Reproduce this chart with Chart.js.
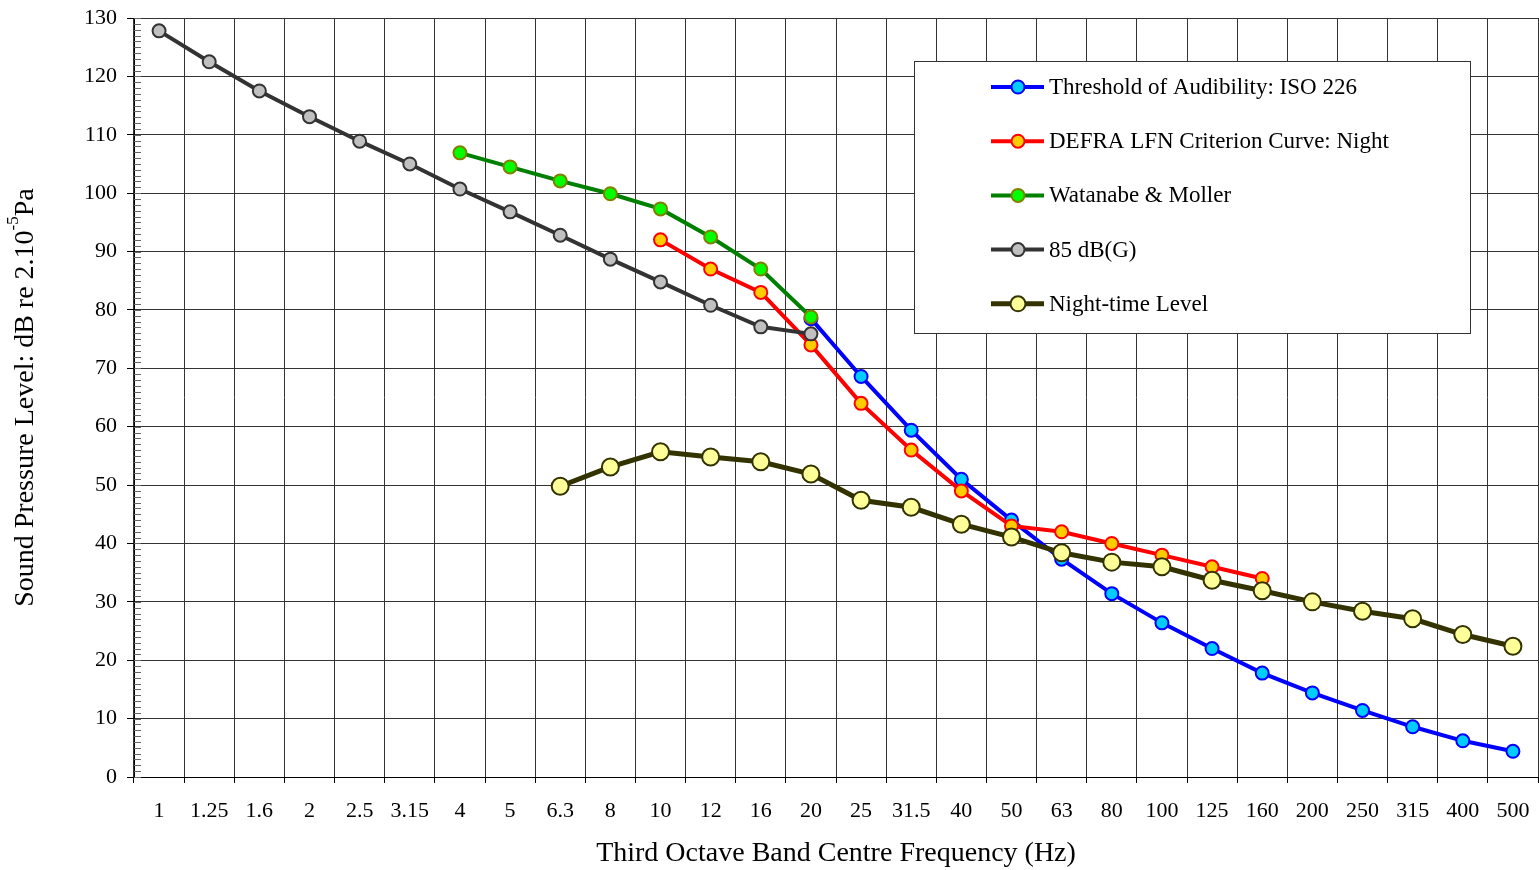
<!DOCTYPE html>
<html>
<head>
<meta charset="utf-8">
<script src="https://cdn.jsdelivr.net/npm/chart.js@4.4.1/dist/chart.umd.min.js"></script>
<style>
  html, body { margin: 0; padding: 0; background: #fff; overflow: hidden; }
  #wrap { width: 1539px; height: 870px; position: relative; }
</style>
</head>
<body>
<div id="wrap"><canvas id="chart"></canvas></div>
<script>
// Third octave band centre frequencies (Hz)
const freqLabels = ['1', '1.25', '1.6', '2', '2.5', '3.15', '4', '5', '6.3', '8', '10', '12', '16', '20',
  '25', '31.5', '40', '50', '63', '80', '100', '125', '160', '200', '250', '315', '400', '500'];

// series values, dB (null = not plotted at that band)
const isoThreshold = [null, null, null, null, null, null, null, null, null, null, null, null, null,
  78.5, 68.6, 59.4, 51.0, 44.0, 37.3, 31.4, 26.4, 22.0, 17.8, 14.4, 11.4, 8.6, 6.2, 4.4];
const defraNight = [null, null, null, null, null, null, null, null, null, null,
  92, 87, 83, 74, 64, 56, 49, 43, 42, 40, 38, 36, 34, null, null, null, null, null];
const watanabeMoller = [null, null, null, null, null, null,
  106.9, 104.5, 102.1, 99.9, 97.3, 92.5, 87.0, 78.8, null, null, null, null, null, null, null,
  null, null, null, null, null, null, null];
const dbG85 = [127.8, 122.5, 117.5, 113.1, 108.9, 105.0, 100.7, 96.8, 92.8, 88.7, 84.8, 80.8, 77.1, 75.9,
  null, null, null, null, null, null, null, null, null, null, null, null, null, null];
const nightLevel = [null, null, null, null, null, null, null, null,
  49.8, 53.1, 55.7, 54.8, 54.0, 51.9, 47.4, 46.2, 43.3, 41.1, 38.4, 36.8, 36.0, 33.7, 31.9, 30.0,
  28.4, 27.1, 24.4, 22.4];

const yTicks = { min: 0, max: 130, step: 10 };
const FONT = "'Liberation Serif', 'Times New Roman', serif";

// minor ticks every 1 dB on the inside of the y axis
const minorTicks = {
  id: 'minorTicks',
  afterDraw(chart) {
    const y = chart.scales.y;
    const c = chart.ctx;
    c.save();
    c.strokeStyle = '#666';
    c.lineWidth = 1;
    c.beginPath();
    for (let v = yTicks.min; v <= yTicks.max; v++) {
      const py = Math.round(y.getPixelForValue(v)) + 0.5;
      c.moveTo(y.right, py);
      c.lineTo(y.right + 7, py);
    }
    c.stroke();
    c.restore();
  }
};

// rotated y title with a superscript exponent
const yTitle = {
  id: 'yTitle',
  afterDraw(chart) {
    const c = chart.ctx;
    const area = chart.chartArea;
    const parts = [
      { t: 'Sound Pressure Level: dB re 2.10', size: 28, rise: 0 },
      { t: '-5', size: 17, rise: 12 },
      { t: 'Pa', size: 28, rise: 0 }
    ];
    c.save();
    let total = 0;
    parts.forEach(p => { c.font = p.size + 'px ' + FONT; p.w = c.measureText(p.t).width; total += p.w; });
    c.translate(26, (area.top + area.bottom) / 2);
    c.rotate(-Math.PI / 2);
    c.fillStyle = '#000';
    c.textBaseline = 'middle';
    c.textAlign = 'left';
    let x = -total / 2;
    parts.forEach(p => {
      c.font = p.size + 'px ' + FONT;
      c.fillText(p.t, x, -p.rise);
      x += p.w;
    });
    c.restore();
  }
};

// boxed legend in the upper right of the plot
const boxLegend = {
  id: 'boxLegend',
  afterDraw(chart) {
    const c = chart.ctx;
    const box = { x: 914, y: 61, w: 556, h: 272 };
    c.save();
    c.fillStyle = '#fff';
    c.fillRect(box.x, box.y, box.w, box.h);
    c.strokeStyle = '#333';
    c.lineWidth = 1;
    c.strokeRect(box.x + 0.5, box.y + 0.5, box.w, box.h);
    chart.data.datasets.forEach((ds, i) => {
      const cy = 87 + i * 54.2;
      c.strokeStyle = ds.borderColor;
      c.lineWidth = ds.borderWidth;
      c.beginPath();
      c.moveTo(991, cy);
      c.lineTo(1044, cy);
      c.stroke();
      c.beginPath();
      c.arc(1018, cy, Math.min(ds.pointRadius, 7.5), 0, Math.PI * 2);
      c.fillStyle = ds.pointBackgroundColor;
      c.fill();
      c.strokeStyle = ds.pointBorderColor;
      c.lineWidth = ds.pointBorderWidth;
      c.stroke();
      c.fillStyle = '#000';
      c.font = '23px ' + FONT;
      c.textBaseline = 'middle';
      c.fillText(ds.label, 1049, cy + 1);
    });
    c.restore();
  }
};

function series(label, data, line, fill, edge, radius, width, order) {
  return {
    label, data, order,
    borderColor: line,
    borderWidth: width,
    pointBackgroundColor: fill,
    pointBorderColor: edge,
    pointBorderWidth: 2,
    pointRadius: radius,
    pointHoverRadius: radius,
    tension: 0,
    spanGaps: false
  };
}

new Chart(document.getElementById('chart'), {
  type: 'line',
  data: {
    labels: freqLabels,
    datasets: [
      series('Threshold of Audibility: ISO 226', isoThreshold, '#0000ff', '#00ccff', '#0000ff', 6.5, 4, 5),
      series('DEFRA LFN Criterion Curve: Night', defraNight, '#ff0000', '#ffcc00', '#ff0000', 6.5, 4, 4),
      series('Watanabe & Moller', watanabeMoller, '#008000', '#00ff00', '#808000', 6.5, 4, 2),
      series('85 dB(G)', dbG85, '#333333', '#c0c0c0', '#333333', 6.5, 4, 3),
      series('Night-time Level', nightLevel, '#333300', '#ffff99', '#333300', 8.5, 5, 1)
    ]
  },
  options: {
    responsive: true,
    maintainAspectRatio: false,
    animation: false,
    layout: { autoPadding: false, padding: { top: 18, right: 1, left: 0, bottom: 0 } },
    plugins: { legend: { display: false }, tooltip: { enabled: false } },
    scales: {
      x: {
        type: 'category',
        offset: true,
        grid: { offset: true, color: '#333', lineWidth: 1, tickLength: 6, tickColor: '#000' },
        border: { color: '#000', width: 1 },
        ticks: { color: '#000', font: { family: FONT, size: 22 }, padding: 15, maxRotation: 0, autoSkip: false },
        title: {
          display: true,
          text: 'Third Octave Band Centre Frequency (Hz)',
          color: '#000',
          font: { family: FONT, size: 28 },
          padding: { top: 0, bottom: 0 }
        },
        afterFit(scale) { scale.height = 93; scale.paddingLeft = 0; scale.paddingRight = 0; }
      },
      y: {
        min: yTicks.min,
        max: yTicks.max,
        grid: { color: '#333', lineWidth: 1, tickLength: 7, tickColor: '#000' },
        border: { color: '#000', width: 1 },
        ticks: { stepSize: yTicks.step, color: '#000', font: { family: FONT, size: 22 }, padding: 10 },
        afterFit(scale) { scale.width = 134; scale.paddingTop = 0; scale.paddingBottom = 0; }
      }
    }
  },
  plugins: [minorTicks, yTitle, boxLegend]
});
</script>
</body>
</html>
